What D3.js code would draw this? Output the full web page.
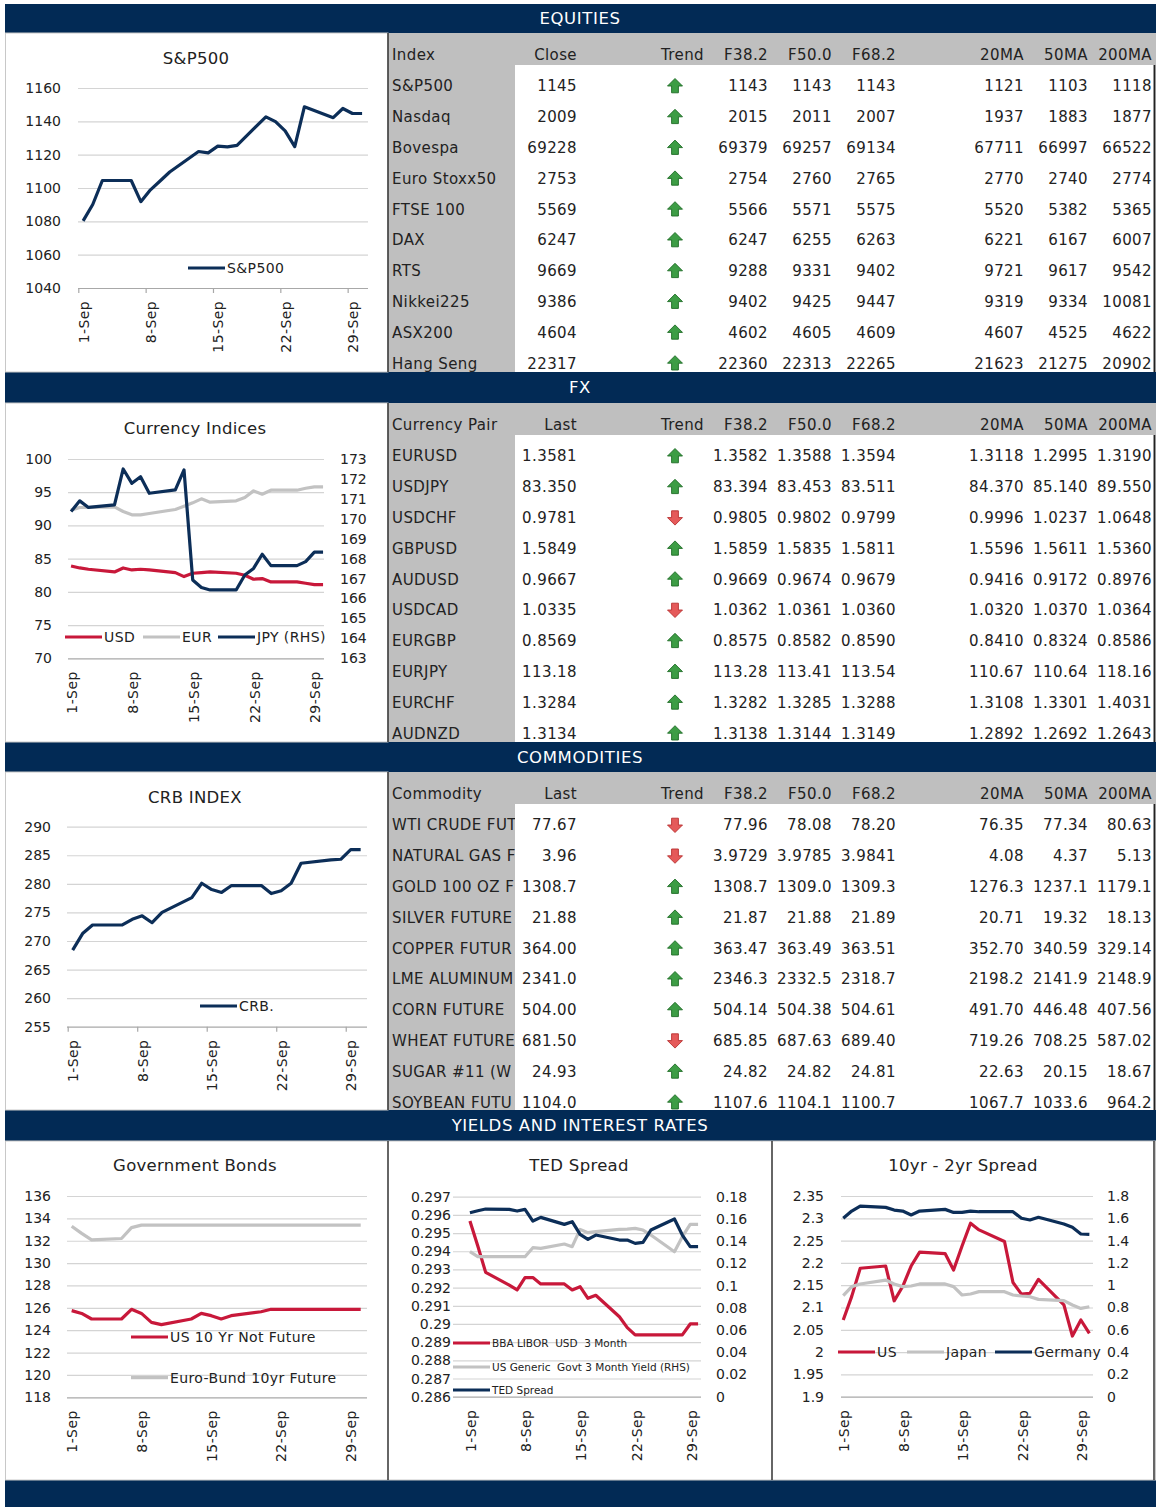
<!DOCTYPE html>
<html>
<head>
<meta charset="utf-8">
<script src="https://cdn.jsdelivr.net/npm/d3@7"></script>
<style>
body { margin: 0; background: #fff; }
svg { display: block; font-family: "DejaVu Sans", Verdana, sans-serif; }
</style>
</head>
<body>
<svg id="dash" width="1156" height="1507"></svg>
<script>
// ---- data ----
var days = [1,2,3,6,7,8,9,10,13,14,15,16,17,20,21,22,23,24,27,28,29,30];

var spx = [1080.3,1090.1,1104.5,1104.5,1091.8,1098.9,1104.2,1109.6,1121.9,1121.1,1125.1,1124.7,1125.6,1142.7,1139.8,1134.3,1124.8,1148.7,1142.2,1147.7,1144.7,1144.7];

var ccyUSD = [83.9,83.6,83.4,83.0,83.6,83.3,83.4,83.3,82.9,82.3,82.8,82.9,83.0,82.8,82.5,81.9,82.0,81.5,81.5,81.3,81.1,81.1];
var ccyEUR = [92.3,92.7,92.7,92.8,92.1,91.6,91.6,91.8,92.4,92.9,93.4,94.0,93.5,93.7,94.2,95.2,94.7,95.3,95.3,95.6,95.8,95.8];
var ccyJPY = [170.36,170.9,170.57,170.7,172.5,171.78,172.11,171.28,171.45,172.45,166.93,166.55,166.43,166.43,167.18,167.51,168.22,167.65,167.65,167.85,168.33,168.33];

var crb = [268.4,271.3,272.8,272.8,273.8,274.4,273.2,275.0,277.6,280.1,279.0,278.5,279.7,279.7,278.3,278.8,280.1,283.6,284.2,284.3,286.0,286.0];

var usNote = [125.75,125.5,125.0,125.0,125.87,125.5,124.7,124.5,125.0,125.5,125.3,125.0,125.3,125.65,125.87,125.87,125.87,125.87,125.87,125.87,125.87,125.87];
var bund = [133.3,132.66,132.07,132.2,133.17,133.4,133.4,133.4,133.4,133.4,133.4,133.4,133.4,133.4,133.4,133.4,133.4,133.4,133.4,133.4,133.4,133.4];

var libor = [0.29566,0.29429,0.29284,0.29214,0.29187,0.29255,0.29255,0.2922,0.2922,0.29187,0.29205,0.29141,0.29158,0.2904,0.2898,0.2894,0.2894,0.2894,0.2894,0.2894,0.29,0.29];
var tbill = [0.1305,0.126,0.126,0.126,0.126,0.126,0.1341,0.1335,0.1374,0.135,0.1506,0.1476,0.1485,0.1506,0.1509,0.1515,0.150,0.1455,0.1305,0.144,0.1551,0.1551];
var tedSpread = [0.1656,0.1674,0.1689,0.1686,0.1671,0.1686,0.1581,0.1614,0.1551,0.1575,0.1461,0.1416,0.1455,0.141,0.141,0.138,0.1389,0.15,0.1599,0.1455,0.135,0.135];

var us102 = [2.072,2.125,2.188,2.193,2.115,2.147,2.193,2.224,2.221,2.184,2.238,2.289,2.274,2.248,2.156,2.130,2.132,2.163,2.106,2.036,2.072,2.042];
var jp102 = [0.906,0.987,1.011,1.046,1.011,0.987,0.993,1.011,1.011,0.987,0.912,0.921,0.942,0.942,0.912,0.903,0.897,0.873,0.861,0.822,0.792,0.807];
var de102 = [1.600,1.665,1.710,1.698,1.674,1.665,1.630,1.665,1.680,1.653,1.653,1.665,1.659,1.659,1.659,1.600,1.585,1.609,1.549,1.519,1.459,1.456];

var colHeads = ["Trend","F38.2","F50.0","F68.2","20MA","50MA","200MA"];

var eqNames = ["S&P500","Nasdaq","Bovespa","Euro Stoxx50","FTSE 100","DAX","RTS","Nikkei225","ASX200","Hang Seng"];
var eqClose = ["1145","2009","69228","2753","5569","6247","9669","9386","4604","22317"];
var eqTrend = [1,1,1,1,1,1,1,1,1,1];
var eqF382 = ["1143","2015","69379","2754","5566","6247","9288","9402","4602","22360"];
var eqF500 = ["1143","2011","69257","2760","5571","6255","9331","9425","4605","22313"];
var eqF682 = ["1143","2007","69134","2765","5575","6263","9402","9447","4609","22265"];
var eq20 = ["1121","1937","67711","2770","5520","6221","9721","9319","4607","21623"];
var eq50 = ["1103","1883","66997","2740","5382","6167","9617","9334","4525","21275"];
var eq200 = ["1118","1877","66522","2774","5365","6007","9542","10081","4622","20902"];

var fxNames = ["EURUSD","USDJPY","USDCHF","GBPUSD","AUDUSD","USDCAD","EURGBP","EURJPY","EURCHF","AUDNZD"];
var fxLast = ["1.3581","83.350","0.9781","1.5849","0.9667","1.0335","0.8569","113.18","1.3284","1.3134"];
var fxTrend = [1,1,0,1,1,0,1,1,1,1];
var fxF382 = ["1.3582","83.394","0.9805","1.5859","0.9669","1.0362","0.8575","113.28","1.3282","1.3138"];
var fxF500 = ["1.3588","83.453","0.9802","1.5835","0.9674","1.0361","0.8582","113.41","1.3285","1.3144"];
var fxF682 = ["1.3594","83.511","0.9799","1.5811","0.9679","1.0360","0.8590","113.54","1.3288","1.3149"];
var fx20 = ["1.3118","84.370","0.9996","1.5596","0.9416","1.0320","0.8410","110.67","1.3108","1.2892"];
var fx50 = ["1.2995","85.140","1.0237","1.5611","0.9172","1.0370","0.8324","110.64","1.3301","1.2692"];
var fx200 = ["1.3190","89.550","1.0648","1.5360","0.8976","1.0364","0.8586","118.16","1.4031","1.2643"];

var cmNames = ["WTI CRUDE FUTR","NATURAL GAS FUTR","GOLD 100 OZ FUTR","SILVER FUTURE","COPPER FUTURE","LME ALUMINUM","CORN FUTURE","WHEAT FUTURE(CBT)","SUGAR #11 (WORLD)","SOYBEAN FUTURE"];
var cmLast = ["77.67","3.96","1308.7","21.88","364.00","2341.0","504.00","681.50","24.93","1104.0"];
var cmTrend = [0,0,1,1,1,1,1,0,1,1];
var cmF382 = ["77.96","3.9729","1308.7","21.87","363.47","2346.3","504.14","685.85","24.82","1107.6"];
var cmF500 = ["78.08","3.9785","1309.0","21.88","363.49","2332.5","504.38","687.63","24.82","1104.1"];
var cmF682 = ["78.20","3.9841","1309.3","21.89","363.51","2318.7","504.61","689.40","24.81","1100.7"];
var cm20 = ["76.35","4.08","1276.3","20.71","352.70","2198.2","491.70","719.26","22.63","1067.7"];
var cm50 = ["77.34","4.37","1237.1","19.32","340.59","2141.9","446.48","708.25","20.15","1033.6"];
var cm200 = ["80.63","5.13","1179.1","18.13","329.14","2148.9","407.56","587.02","18.67","964.2"];

// ---- look ----
var BAND = "#022a55", NAVY = "#0c2e58", RED = "#c8183a", LGRAY = "#c2c2c2",
    CELL = "#bfbfbf", TXT = "#222", GRID = "#d4d4d4";

var svg = d3.select("#dash");

// section bands
var bands = [["EQUITIES", 4, 33], ["FX", 372, 403], ["COMMODITIES", 742, 772],
             ["YIELDS AND INTEREST RATES", 1110, 1141], ["", 1480, 1507]];

bands.forEach(function(b) {
    svg.append("rect").attr("x", 5).attr("y", b[1]).attr("width", 1151).attr("height", b[2] - b[1]).attr("fill", BAND);
    if (b[0]) {
        svg.append("text").attr("x", 580).attr("y", (b[1] + b[2]) / 2).attr("dy", "0.36em")
            .attr("text-anchor", "middle").attr("fill", "#fff").attr("font-size", 16.5)
            .attr("letter-spacing", 0.6).text(b[0]);
    }
});

// panels
[[33, 372], [403, 742], [772, 1110]].forEach(function(s) {
    svg.append("rect").attr("x", 5.5).attr("y", s[0]).attr("width", 382.5).attr("height", s[1] - s[0])
        .attr("fill", "#fff").attr("stroke", "#c8c8c8");
    svg.append("rect").attr("x", 388).attr("y", s[0]).attr("width", 768).attr("height", s[1] - s[0]).attr("fill", CELL);
    svg.append("rect").attr("x", 515).attr("y", s[0] + 32).attr("width", 638).attr("height", s[1] - s[0] - 32).attr("fill", "#fff");
    svg.append("line").attr("x1", 388).attr("x2", 388).attr("y1", s[0]).attr("y2", s[1]).attr("stroke", "#333").attr("stroke-width", 1.5);
    svg.append("line").attr("x1", 1154.5).attr("x2", 1154.5).attr("y1", s[0] + 32).attr("y2", s[1]).attr("stroke", "#222").attr("stroke-width", 1.5);
});
svg.append("rect").attr("x", 5.5).attr("y", 1141).attr("width", 1150).attr("height", 339).attr("fill", "#fff").attr("stroke", "#c8c8c8");
[388, 772, 1154].forEach(function(x) {
    svg.append("line").attr("x1", x).attr("x2", x).attr("y1", 1141).attr("y2", 1480).attr("stroke", "#333").attr("stroke-width", 1.5);
});

// ---- tables ----
var colRight = [768, 832, 896, 1024, 1088, 1152];

svg.append("clipPath").attr("id", "nameclip").append("rect").attr("x", 388).attr("y", 0).attr("width", 127).attr("height", 1507);

function arrow(g, cx, cy, up) {
    var p = up ? "M0,-7.5 L7.5,0 L3.4,0 L3.4,6.8 L-3.4,6.8 L-3.4,0 L-7.5,0 Z"
               : "M0,7.5 L7.5,0 L3.4,0 L3.4,-6.8 L-3.4,-6.8 L-3.4,0 L-7.5,0 Z";
    g.append("path").attr("d", p).attr("transform", "translate(" + cx + "," + cy + ")")
        .attr("fill", up ? "#3d9d45" : "#e55a5a").attr("stroke", up ? "#1d6b25" : "#b83030").attr("stroke-width", 0.9);
}

function table(top, firstHead, secondHead, names, last, trend, cols) {
    var g = svg.append("g").attr("font-size", 15).attr("letter-spacing", 0.4).attr("fill", TXT);
    var hy = top + 22;
    g.append("text").attr("x", 392).attr("y", hy).attr("dy", "0.36em").text(firstHead);
    g.append("text").attr("x", 577).attr("y", hy).attr("dy", "0.36em").attr("text-anchor", "end").text(secondHead);
    g.append("text").attr("x", 704).attr("y", hy).attr("dy", "0.36em").attr("text-anchor", "end").text(colHeads[0]);
    colHeads.slice(1).forEach(function(h, j) {
        g.append("text").attr("x", colRight[j]).attr("y", hy).attr("dy", "0.36em").attr("text-anchor", "end").text(h);
    });
    names.forEach(function(n, i) {
        var cy = top + 53 + i * 30.8;
        var lastT = g.append("text").attr("x", 577).attr("y", cy).attr("dy", "0.36em").attr("text-anchor", "end").text(last[i]);
        var nameT = g.append("text").attr("x", 392).attr("y", cy).attr("dy", "0.36em").attr("clip-path", "url(#nameclip)").text(n);
        // the cell cuts long names, as in the sheet: keep what shows before the value
        var limit = Math.min(lastT.node().getBBox().x - 1.5, 522);
        var s = n;
        while (s.length > 1 && 392 + nameT.node().getComputedTextLength() > limit) {
            s = s.slice(0, -1);
            nameT.text(s);
        }
        arrow(g, 675, cy, trend[i] === 1);
        cols.forEach(function(c, j) {
            g.append("text").attr("x", colRight[j]).attr("y", cy).attr("dy", "0.36em").attr("text-anchor", "end").text(c[i]);
        });
    });
}

table(33, "Index", "Close", eqNames, eqClose, eqTrend, [eqF382, eqF500, eqF682, eq20, eq50, eq200]);
table(403, "Currency Pair", "Last", fxNames, fxLast, fxTrend, [fxF382, fxF500, fxF682, fx20, fx50, fx200]);
table(772, "Commodity", "Last", cmNames, cmLast, cmTrend, [cmF382, cmF500, cmF682, cm20, cm50, cm200]);

// ---- charts ----
function dateOf(d) { return new Date(2010, 8, d, 12); }
function general(v) { return String(+v.toFixed(4)); }
function steps(dom, step) {
    var n = Math.round((dom[1] - dom[0]) / step);
    return d3.range(n + 1).map(function(i) { return +(dom[0] + i * step).toFixed(5); });
}
var xTicks = [1, 8, 15, 22, 29].map(function(d) { return new Date(2010, 8, d); });

function chart(c) {
    var g = svg.append("g");
    var x = d3.scaleTime().domain([new Date(2010, 8, 1), new Date(2010, 9, 1)]).range(c.xr);
    var yl = d3.scaleLinear().domain(c.left.dom).range([c.yBot, c.yTop]);
    var yr = c.right ? d3.scaleLinear().domain(c.right.dom).range([c.yBot, c.yTop]) : null;
    var lt = steps(c.left.dom, c.left.step);

    g.append("text").attr("x", c.title[1]).attr("y", c.title[2]).attr("dy", "0.36em")
        .attr("text-anchor", "middle").attr("font-size", 16.5).attr("letter-spacing", 0.3)
        .attr("fill", TXT).text(c.title[0]);

    // gridlines
    var grid = g.append("g").attr("transform", "translate(" + c.grid[0] + ",0)")
        .call(d3.axisRight(yl).tickValues(lt).tickSize(c.grid[1] - c.grid[0]).tickFormat(""));
    grid.select(".domain").remove();
    grid.selectAll("line").attr("stroke", function(d) { return d === lt[0] ? "#a8a8a8" : GRID; }).attr("stroke-width", 1.2);

    // y labels
    var la = g.append("g").attr("transform", "translate(" + c.left.x + ",0)")
        .call(d3.axisLeft(yl).tickValues(lt).tickSize(0).tickPadding(0).tickFormat(general));
    la.select(".domain").remove();
    la.attr("font-family", null).attr("font-size", 14);
    la.selectAll("text").attr("fill", TXT);

    if (yr) {
        var ra = g.append("g").attr("transform", "translate(" + c.right.x + ",0)")
            .call(d3.axisRight(yr).tickValues(steps(c.right.dom, c.right.step)).tickSize(0).tickPadding(0).tickFormat(general));
        ra.select(".domain").remove();
        ra.attr("font-family", null).attr("font-size", 14);
        ra.selectAll("text").attr("fill", TXT);
    }

    // x axis
    var xa = g.append("g").attr("transform", "translate(0," + c.yBot + ")")
        .call(d3.axisBottom(x).tickValues(xTicks).tickSize(c.ticks ? 5 : 0).tickFormat(d3.timeFormat("%-d-%b")));
    xa.select(".domain").remove();
    xa.attr("font-family", null).attr("font-size", 14);
    xa.selectAll("line").attr("stroke", "#a8a8a8").attr("stroke-width", 1.2);
    xa.selectAll("text").attr("fill", TXT).attr("transform", "rotate(-90)").attr("letter-spacing", 0.4)
        .attr("text-anchor", "end").attr("x", -13).attr("y", 0).attr("dy", "0.7em");

    // series
    c.series.forEach(function(s) {
        var sc = s.rhs ? yr : yl;
        var line = d3.line()
            .x(function(v, i) { return x(dateOf(days[i])); })
            .y(function(v) { return sc(v); });
        g.append("path").datum(s.vals).attr("d", line).attr("fill", "none")
            .attr("stroke", s.color).attr("stroke-width", 3.2).attr("stroke-linejoin", "round");
    });

    // legend
    c.legend.forEach(function(l) {
        g.append("line").attr("x1", l.x).attr("x2", l.x + 37).attr("y1", l.y).attr("y2", l.y)
            .attr("stroke", l.color).attr("stroke-width", 3.2);
        g.append("text").attr("x", l.x + 39).attr("y", l.y).attr("dy", "0.36em")
            .attr("font-size", l.fs || 14).attr("letter-spacing", l.fs ? 0 : 0.4)
            .attr("fill", TXT).style("white-space", "pre").text(l.label);
    });
}

chart({
    title: ["S&P500", 196, 58],
    xr: [78.3, 366.9], yTop: 88, yBot: 288, grid: [78, 368], ticks: true,
    left: { dom: [1040, 1160], step: 20, x: 61 },
    series: [{ vals: spx, color: NAVY }],
    legend: [{ label: "S&P500", color: NAVY, x: 188, y: 268 }]
});

chart({
    title: ["Currency Indices", 195, 428],
    xr: [66.7, 327.4], yTop: 459, yBot: 658.3, grid: [68, 324], ticks: false,
    left: { dom: [70, 100], step: 5, x: 52 },
    right: { dom: [163, 173], step: 1, x: 340 },
    series: [{ vals: ccyUSD, color: RED }, { vals: ccyEUR, color: LGRAY }, { vals: ccyJPY, color: NAVY, rhs: true }],
    legend: [{ label: "USD", color: RED, x: 65, y: 637 },
             { label: "EUR", color: LGRAY, x: 143, y: 637 },
             { label: "JPY (RHS)", color: NAVY, x: 218, y: 637 }]
});

chart({
    title: ["CRB INDEX", 195, 797],
    xr: [67.7, 365.6], yTop: 826.7, yBot: 1026.7, grid: [67, 367], ticks: true,
    left: { dom: [255, 290], step: 5, x: 51 },
    series: [{ vals: crb, color: NAVY }],
    legend: [{ label: "CRB.", color: NAVY, x: 200, y: 1006 }]
});

chart({
    title: ["Government Bonds", 195, 1165],
    xr: [66.7, 365.7], yTop: 1196, yBot: 1397.3, grid: [67, 367], ticks: false,
    left: { dom: [118, 136], step: 2, x: 51 },
    series: [{ vals: usNote, color: RED }, { vals: bund, color: LGRAY }],
    legend: [{ label: "US 10 Yr Not Future", color: RED, x: 131, y: 1337 },
             { label: "Euro-Bund 10yr Future", color: LGRAY, x: 131, y: 1377.7 }]
});

chart({
    title: ["TED Spread", 579, 1165],
    xr: [466, 702], yTop: 1196.7, yBot: 1396.7, grid: [453, 701], ticks: false,
    left: { dom: [0.286, 0.297], step: 0.001, x: 451 },
    right: { dom: [0, 0.18], step: 0.02, x: 716 },
    series: [{ vals: libor, color: RED }, { vals: tbill, color: LGRAY, rhs: true }, { vals: tedSpread, color: NAVY, rhs: true }],
    legend: [{ label: "BBA LIBOR  USD  3 Month", color: RED, x: 453, y: 1343, fs: 10.5 },
             { label: "US Generic  Govt 3 Month Yield (RHS)", color: LGRAY, x: 453, y: 1367, fs: 10.5 },
             { label: "TED Spread", color: NAVY, x: 453, y: 1390, fs: 10.5 }]
});

chart({
    title: ["10yr - 2yr Spread", 963, 1165],
    xr: [839, 1093.6], yTop: 1196, yBot: 1396.7, grid: [841, 1093], ticks: false,
    left: { dom: [1.9, 2.35], step: 0.05, x: 824 },
    right: { dom: [0, 1.8], step: 0.2, x: 1107 },
    series: [{ vals: us102, color: RED }, { vals: jp102, color: LGRAY, rhs: true }, { vals: de102, color: NAVY, rhs: true }],
    legend: [{ label: "US", color: RED, x: 838, y: 1352 },
             { label: "Japan", color: LGRAY, x: 907, y: 1352 },
             { label: "Germany", color: NAVY, x: 995, y: 1352 }]
});
</script>
</body>
</html>
